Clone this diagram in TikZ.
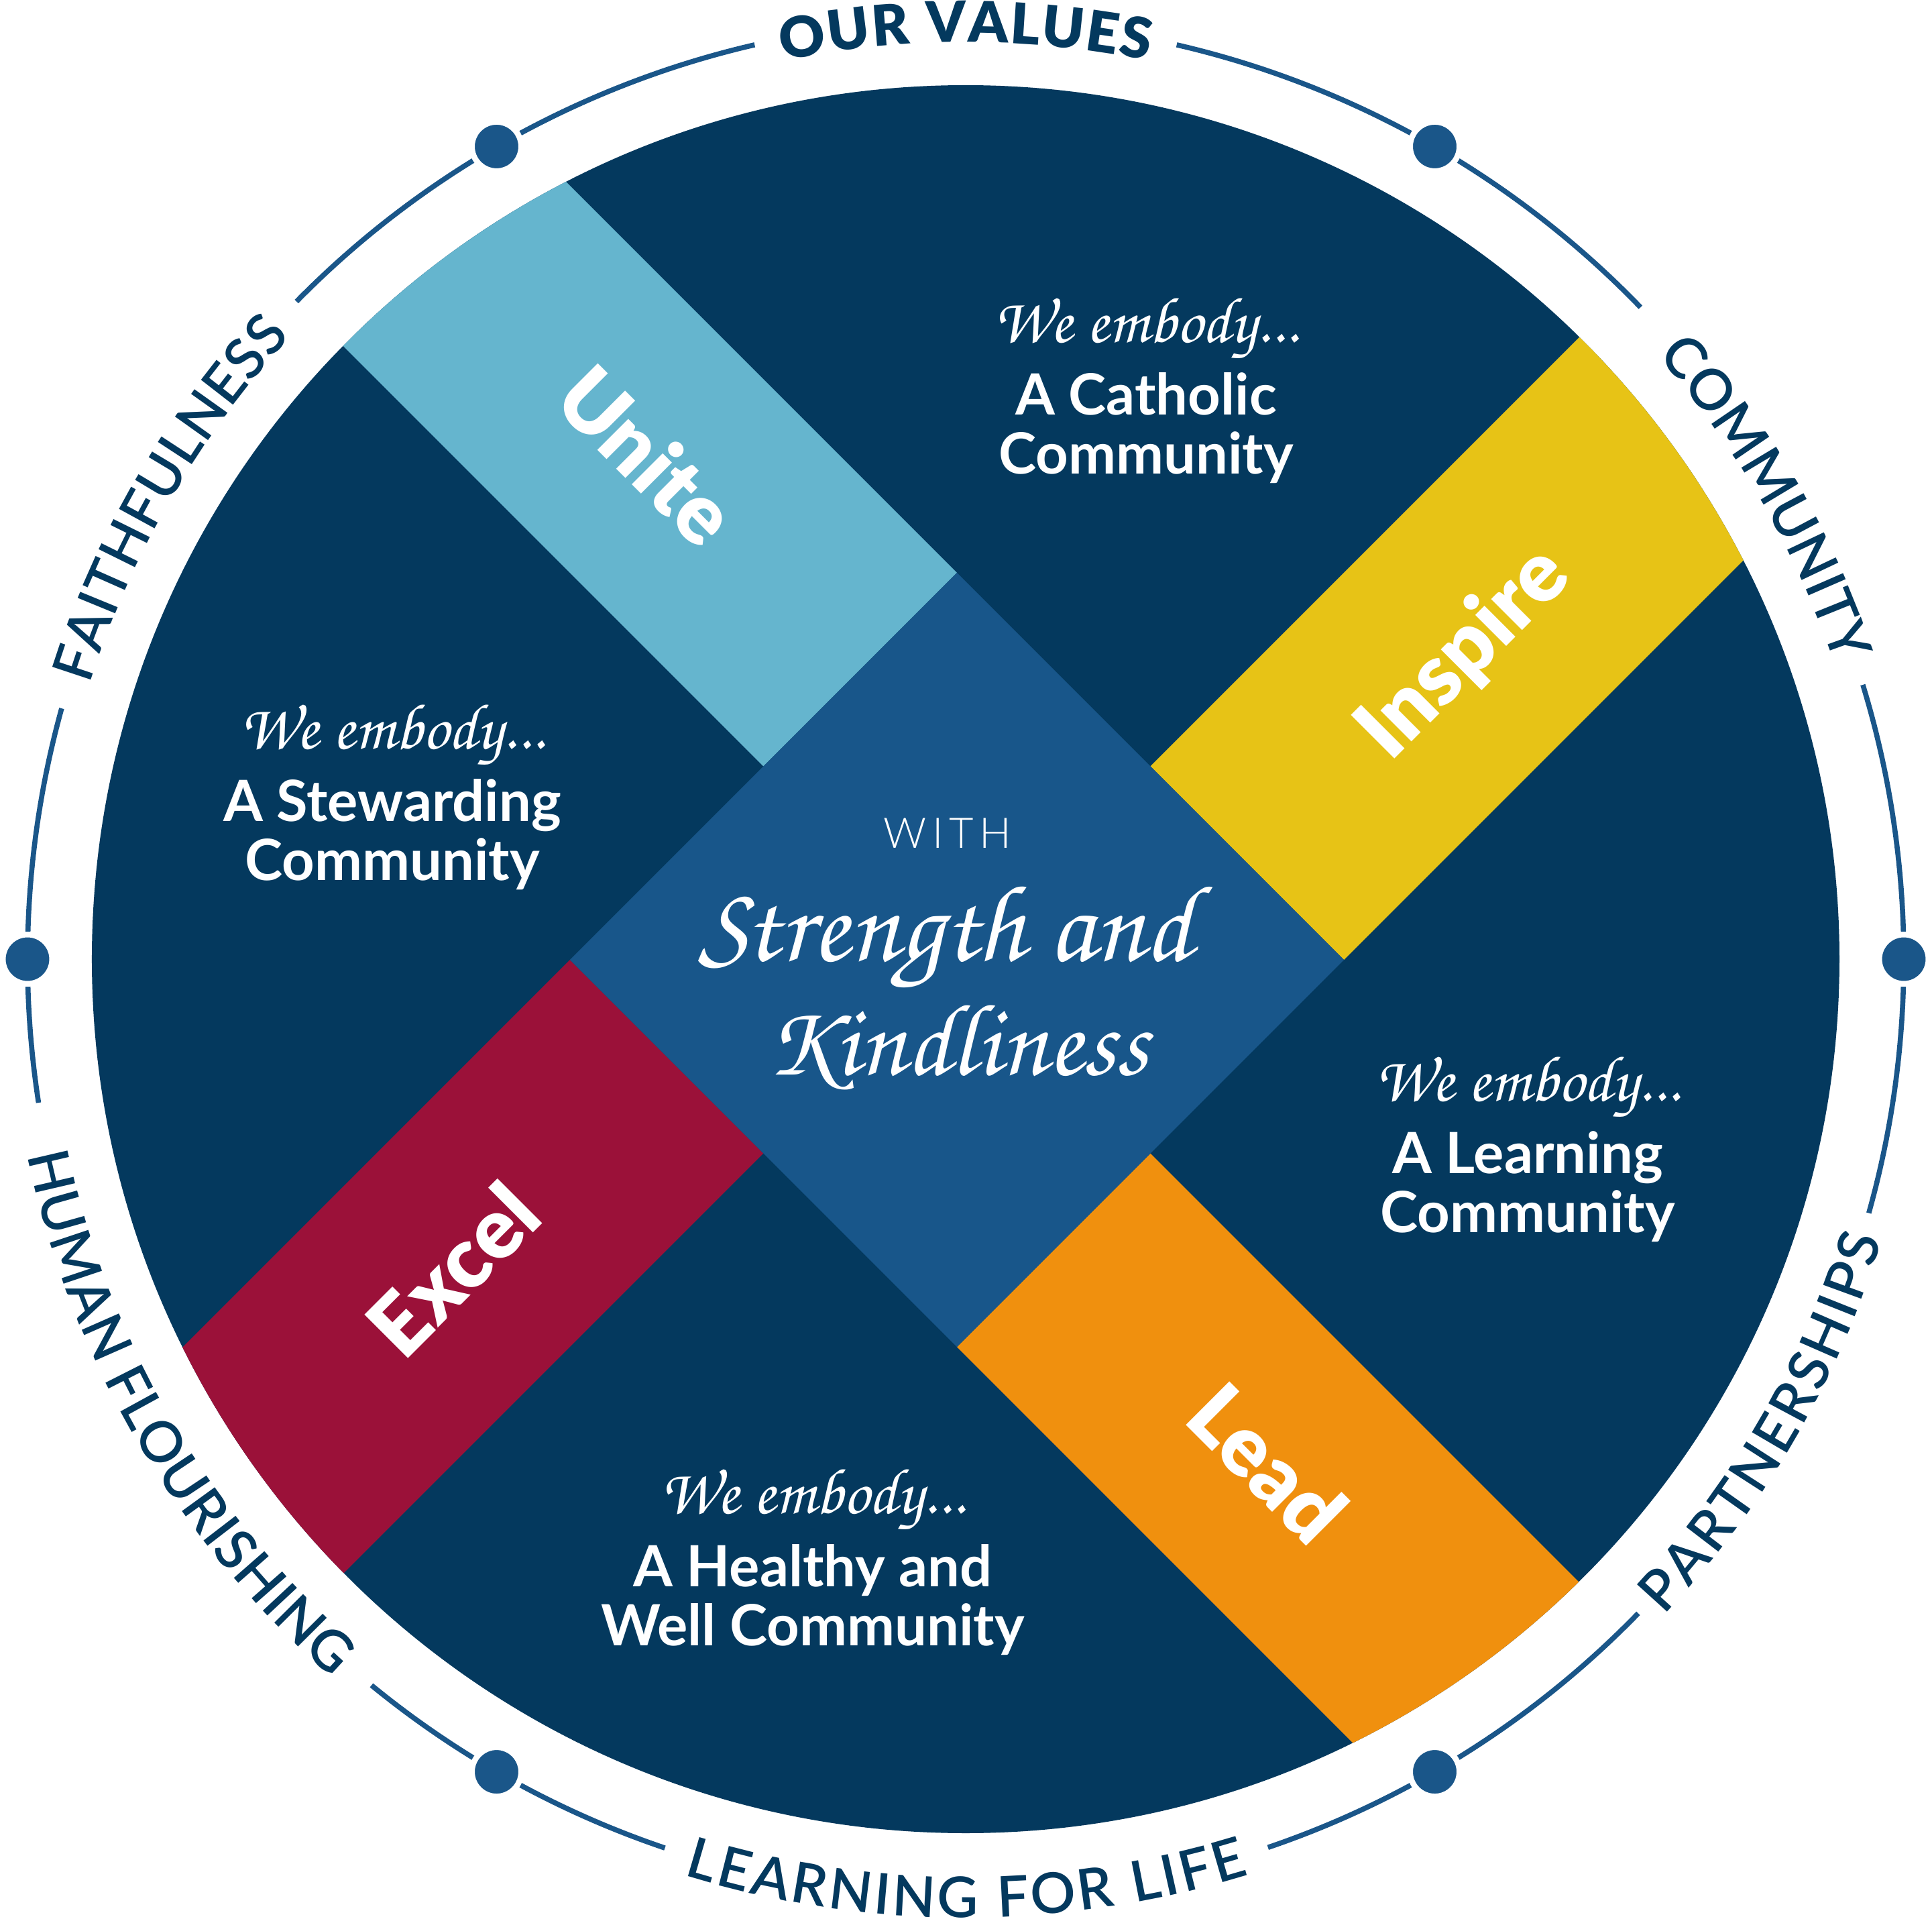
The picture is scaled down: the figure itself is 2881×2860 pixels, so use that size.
\documentclass[tikz,border=0pt]{standalone}
\usepackage{fontspec}
\usepackage{graphicx}
\usetikzlibrary{decorations.text}
\setmainfont{Lato}
\IfFontExistsTF{Lato Black}{\newfontfamily\fblack{Lato Black}}{\newcommand\fblack{\bfseries}}
\IfFontExistsTF{Lato Semibold}{\newfontfamily\fsemi{Lato Semibold}}{\newcommand\fsemi{\bfseries}}
\IfFontExistsTF{Lato Light}{\newfontfamily\flight{Lato Light}[LetterSpace=14]}{\newfontfamily\flight{Lato}[LetterSpace=14]}
\IfFontExistsTF{Miama.otf}{\newfontfamily\fscript{Miama.otf}}{%
 \IfFontExistsTF{MiamaNueva.otf}{\newfontfamily\fscript{MiamaNueva.otf}}{%
 \IfFontExistsTF{PinyonScript.otf}{\newfontfamily\fscript{PinyonScript.otf}}{%
 \IfFontExistsTF{PinyonScript-Regular.otf}{\newfontfamily\fscript{PinyonScript-Regular.otf}}{%
  \IfFontExistsTF{texgyrechorus-mediumitalic.otf}{\newfontfamily\fscript{texgyrechorus-mediumitalic.otf}}{\newcommand\fscript{\itshape}}}}}}
\definecolor{navy}{HTML}{04395E}
\definecolor{midblue}{HTML}{18568A}
\definecolor{ringblue}{HTML}{1A5689}
\definecolor{unitecol}{HTML}{65B5CE}
\definecolor{inspirecol}{HTML}{E7C316}
\definecolor{excelcol}{HTML}{9B1139}
\definecolor{leadcol}{HTML}{F0900E}
\newdimen\pxu \pxu=0.25pt
\newcommand\valfont{\fblack\fontsize{21pt}{24pt}\selectfont}
\newcommand\ringfont{\fsemi\fontsize{21pt}{24pt}\selectfont}
\begin{document}
\begin{tikzpicture}[x=0.25pt,y=0.25pt,
  ringline/.style={draw=ringblue, line width=1.9pt},
  dotnode/.style={circle, fill=ringblue, draw=white, line width=2.125pt, minimum size=18.375pt, inner sep=0pt},
  bandlabel/.style={text=white, inner sep=0pt, font=\fblack\fontsize{31.5pt}{31.5pt}\selectfont, text height=22.6pt, text depth=0pt},
  bodytext/.style={text=white, inner sep=0pt, anchor=base, font=\bfseries\fontsize{21.2pt}{23pt}\selectfont},
  scripttext/.style={text=white, inner sep=0pt, anchor=base},
]
\useasboundingbox (-1440,-1430) rectangle (1441,1430);
\fill[white] (-1440,-1430) rectangle (1441,1430);

% outer ring
\foreach \a/\b in {103/135.5, 164.5/188.8, 230.7/251.3, 288.8/315.8, 344.3/377, 44/77}
  \draw[ringline] (\a:1399) arc[start angle=\a, end angle=\b, radius=1399];
\foreach \a/\n in {0/dotE, 60/dotNE, 120/dotNW, 180/dotW, 240/dotSW, 300/dotSE}
  \node[dotnode] (\n) at (\a:1399) {};

% ring labels
\path[decorate, decoration={text along path, text align=fit to path, text color=navy,
  text={|\valfont|OUR VALUES}}] (101.5:1367) arc[start angle=101.5, end angle=78.5, radius=1367];
\path[decorate, decoration={text along path, text align=fit to path, text color=navy,
  text={|\ringfont|COMMUNITY}}] (41.1:1369) arc[start angle=41.1, end angle=19.7, radius=1369];
\path[decorate, decoration={text along path, text align=fit to path, text color=navy,
  text={|\ringfont|FAITHFULNESS}}] (162.6:1369) arc[start angle=162.6, end angle=137.3, radius=1369];
\path[decorate, decoration={text along path, text align=fit to path, text color=navy,
  text={|\ringfont|HUMAN FLOURISHING}}] (191.8:1429) arc[start angle=191.8, end angle=228.6, radius=1429];
\path[decorate, decoration={text along path, text align=fit to path, text color=navy,
  text={|\ringfont|LEARNING FOR LIFE}}] (252.9:1429) arc[start angle=252.9, end angle=287.2, radius=1429];
\path[decorate, decoration={text along path, text align=fit to path, text color=navy,
  text={|\ringfont|PARTNERSHIPS}}] (316.8:1429) arc[start angle=316.8, end angle=343, radius=1429];

% main disc
\fill[navy] (0,0) circle[radius=1303];
\begin{scope}
  \clip (0,0) circle[radius=1303];
  \fill[unitecol] (-301.5,287.5) -- (-13,576) -- (-2013,2576) -- (-2301.5,2287.5) -- cycle;
  \fill[inspirecol] (275.5,287.5) -- (564,-1) -- (2564,1999) -- (2275.5,2287.5) -- cycle;
  \fill[leadcol] (275.5,-289.5) -- (-13,-578) -- (1987,-2578) -- (2275.5,-2289.5) -- cycle;
  \fill[excelcol] (-590,-1) -- (-301.5,-289.5) -- (-2301.5,-2289.5) -- (-2590,-2001) -- cycle;
\end{scope}
\fill[midblue] (-13,576) -- (564,-1) -- (-13,-578) -- (-590,-1) -- cycle;

% band labels
\node[bandlabel, rotate=-45] (unite) at (-475.5,750) {Unite};
\node[bandlabel, rotate=45] (inspire) at (738,461.5) {Inspire};
\node[bandlabel, rotate=-45] (lead) at (449.5,-752) {Lead};
\node[bandlabel, rotate=45] (excel) at (-764,-463.5) {Excel};

% community texts
\node[scripttext] (cathS) at (269,919) {\resizebox{455\pxu}{!}{\fscript We embody...}};
\node[bodytext] (cath1) at (269,811) {A Catholic};
\node[bodytext] (cath2) at (269,723) {Community};

\node[scripttext] (stewS) at (-855,313) {\resizebox{455\pxu}{!}{\fscript We embody...}};
\node[bodytext] (stew1) at (-855,205) {A Stewarding};
\node[bodytext] (stew2) at (-855,118) {Community};

\node[scripttext] (learnS) at (838,-211) {\resizebox{455\pxu}{!}{\fscript We embody...}};
\node[bodytext] (learn1) at (838,-319) {A Learning};
\node[bodytext] (learn2) at (838,-407) {Community};

\node[scripttext] (healS) at (-228,-826) {\resizebox{455\pxu}{!}{\fscript We embody...}};
\node[bodytext] (heal1) at (-228,-935) {A Healthy and};
\node[bodytext] (heal2) at (-228,-1023) {Well Community};

% centre
\node[scripttext, font=\flight\fontsize{15.75pt}{16pt}\selectfont] (with) at (-27,166) {WITH};
\node[scripttext] (strength) at (-30,-3) {\resizebox{737\pxu}{!}{\fscript Strength and}};
\node[scripttext] (kind) at (-12,-173) {\resizebox{568\pxu}{!}{\fscript Kindliness}};
\end{tikzpicture}
\end{document}
